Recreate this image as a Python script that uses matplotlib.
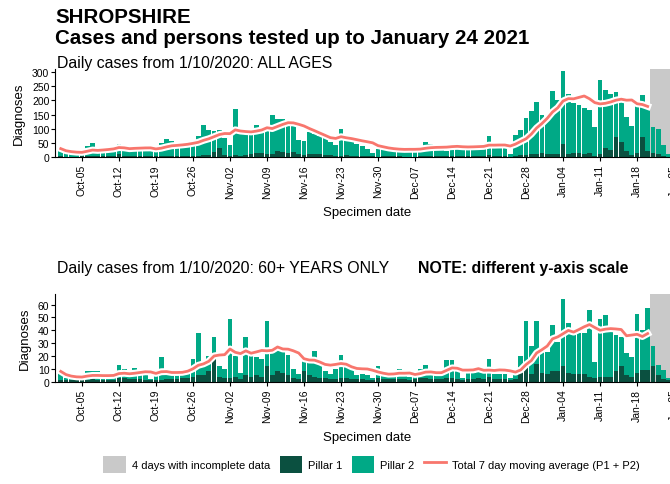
import matplotlib
matplotlib.use("Agg")
import matplotlib.pyplot as plt
import matplotlib.dates as mdates
import matplotlib.patheffects as pe
from matplotlib.patches import Patch
from matplotlib.lines import Line2D
import pandas as pd

plt.rcParams['font.family'] = ['Liberation Sans', 'DejaVu Sans']

# Days from 1 Oct 2020 to 24 Jan 2021
dates = pd.date_range("2020-10-01", "2021-01-24", freq="D")
incomplete_days = 4

# All ages: total cases (P1 + P2) and pillar 1 cases per day
all_total = [
    30, 15, 13, 12, 14, 40, 50, 22, 25, 25, 27, 48, 32, 30, 30, 30, 30, 28, 22, 50,
    63, 57, 40, 42, 43, 45, 76, 112, 95, 92, 95, 68, 42, 170, 83, 82, 83, 115, 95, 98,
    150, 135, 133, 125, 110, 60, 57, 88, 80, 75, 68, 52, 42, 99, 62, 60, 48, 40, 28, 16,
    30, 33, 32, 30, 28, 22, 18, 30, 38, 52, 45, 35, 25, 22, 42, 45, 42, 40, 38, 30,
    28, 73, 45, 45, 40, 12, 78, 95, 138, 162, 195, 150, 140, 234, 200, 305, 222, 190, 185, 175,
    165, 105, 273, 237, 222, 230, 200, 140, 110, 180, 218, 175, 105, 98, 42, 10,
]
all_p1 = [
    3, 2, 2, 2, 3, 4, 4, 3, 3, 3, 4, 12, 4, 3, 3, 3, 3, 3, 3, 3,
    4, 5, 4, 4, 4, 4, 5, 6, 8, 18, 32, 8, 4, 8, 5, 6, 10, 15, 15, 10,
    12, 20, 18, 15, 18, 12, 8, 10, 12, 10, 8, 8, 5, 4, 6, 5, 5, 4, 4, 3,
    2, 4, 3, 3, 3, 2, 2, 2, 5, 4, 5, 4, 4, 3, 3, 5, 5, 4, 4, 4,
    3, 6, 5, 5, 4, 2, 5, 6, 8, 12, 10, 15, 12, 10, 12, 48, 12, 15, 14, 12,
    13, 5, 10, 32, 25, 72, 55, 22, 8, 15, 72, 20, 15, 12, 4, 2,
]

# 60+ years: total cases and pillar 1 cases per day
old_total = [
    8, 3, 2, 2, 3, 8, 8, 8, 2, 2, 3, 13, 10, 5, 11, 6, 6, 2, 5, 19,
    6, 6, 6, 7, 8, 18, 38, 14, 20, 35, 12, 10, 49, 20, 7, 35, 22, 19, 18, 47,
    23, 25, 24, 21, 10, 6, 16, 16, 24, 14, 8, 6, 10, 21, 12, 10, 5, 6, 5, 3,
    12, 5, 5, 6, 10, 5, 4, 4, 10, 13, 7, 6, 5, 17, 17, 8, 3, 7, 7, 12,
    8, 18, 6, 6, 6, 3, 5, 20, 47, 28, 47, 24, 23, 44, 31, 64, 46, 38, 38, 38,
    56, 15, 49, 52, 41, 36, 35, 22, 19, 53, 40, 57, 28, 13, 9, 3,
]
old_p1 = [
    1, 1, 1, 1, 1, 1, 2, 1, 1, 1, 1, 3, 3, 2, 2, 2, 1, 1, 1, 1,
    2, 2, 2, 3, 3, 4, 5, 5, 8, 19, 4, 3, 3, 4, 2, 5, 4, 5, 4, 12,
    5, 8, 7, 5, 3, 2, 8, 5, 4, 3, 3, 2, 2, 3, 3, 2, 2, 2, 1, 1,
    3, 2, 2, 2, 2, 2, 1, 2, 3, 3, 2, 2, 2, 3, 3, 2, 1, 2, 2, 3,
    2, 4, 2, 2, 2, 1, 2, 8, 12, 6, 14, 7, 6, 8, 8, 12, 7, 6, 6, 6,
    4, 3, 4, 4, 4, 8, 12, 5, 4, 7, 9, 9, 12, 5, 2, 1,
]

# Colours
p1_colour = "#0B5040"
p2_colour = "#00A986"
avg_colour = "#F8766D"
grey_colour = "#C9C9C9"


def draw_panel(ax, total, p1, ylim, yticks):
    # Pillar 2 is whatever is left after pillar 1
    p2 = [t - a for t, a in zip(total, p1)]
    # Incomplete days at the end of the series
    ax.axvspan(dates[-incomplete_days] - pd.Timedelta(hours=12),
               dates[-1] + pd.Timedelta(days=3), color=grey_colour, lw=0, zorder=0)
    # Stacked bars: pillar 1 underneath, pillar 2 on top
    ax.bar(dates, p1, width=0.9, color=p1_colour, zorder=2)
    ax.bar(dates, p2, bottom=p1, width=0.9, color=p2_colour, zorder=2)
    # Trailing 7 day average, complete days only
    complete = pd.Series(total[:-incomplete_days], index=dates[:-incomplete_days])
    avg = complete.rolling(7, min_periods=1).mean()
    ax.plot(avg.index, avg.values, color=avg_colour, lw=2, zorder=3,
            path_effects=[pe.Stroke(linewidth=5, foreground="white"), pe.Normal()])
    ax.set_xlim(dates[0] - pd.Timedelta(days=1.1), dates[-1] + pd.Timedelta(days=2))
    ax.set_ylim(*ylim)
    ax.set_yticks(yticks)
    # Weekly ticks on Mondays
    ax.xaxis.set_major_locator(mdates.WeekdayLocator(byweekday=mdates.MO))
    ax.xaxis.set_major_formatter(mdates.DateFormatter("%b-%d"))
    ax.tick_params(axis="x", labelrotation=90, labelsize=7.5, length=3, pad=2)
    ax.tick_params(axis="y", labelsize=7.5, length=3, pad=1)
    for side in ["top", "right"]:
        ax.spines[side].set_visible(False)
    ax.set_ylabel("Diagnoses", fontsize=9.5, labelpad=5)
    ax.set_xlabel("Specimen date", fontsize=9.5, labelpad=6)


fig = plt.figure(figsize=(6.7, 4.85), dpi=100)

# Panel for all ages
ax1 = fig.add_axes([0.082, 0.674, 0.932, 0.181])
draw_panel(ax1, all_total, all_p1, (0, 310), range(0, 301, 50))

# Panel for 60+ years
ax2 = fig.add_axes([0.082, 0.211, 0.932, 0.181])
draw_panel(ax2, old_total, old_p1, (0, 68.3), range(0, 61, 10))

# Titles
fig.text(0.082, 0.963, "SHROPSHIRE", fontsize=14.8, fontweight="bold", va="center")
fig.text(0.082, 0.921, "Cases and persons tested up to January 24 2021",
         fontsize=14.8, fontweight="bold", va="center")
fig.text(0.085, 0.869, "Daily cases from 1/10/2020: ALL AGES", fontsize=11.4, va="center")
fig.text(0.085, 0.447, "Daily cases from 1/10/2020: 60+ YEARS ONLY", fontsize=11.4, va="center")
fig.text(0.624, 0.447, "NOTE: different y-axis scale", fontsize=11.4,
         fontweight="bold", va="center")

# Legend along the bottom
handles = [
    Patch(facecolor=grey_colour, label="4 days with incomplete data"),
    Patch(facecolor=p1_colour, label="Pillar 1"),
    Patch(facecolor=p2_colour, label="Pillar 2"),
    Line2D([0], [0], color=avg_colour, lw=2, label="Total 7 day moving average (P1 + P2)"),
]
fig.legend(handles=handles, loc="center", bbox_to_anchor=(0.555, 0.041), ncol=4,
           frameon=False, fontsize=8, handlelength=2.0, handleheight=2.0,
           columnspacing=0.8, handletextpad=0.6)

fig.savefig("out.png", dpi=100)
